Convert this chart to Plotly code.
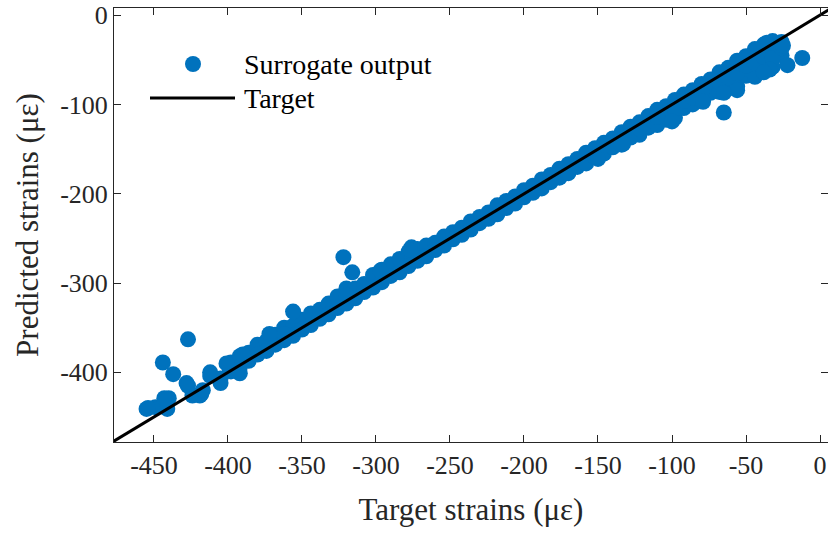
import plotly.graph_objects as go

# ---------------- data ----------------
band_x = [-398, -392, -386, -380, -374, -368, -362, -356, -350, -344, -338, -332,
          -326, -320, -314, -308, -302, -296, -290, -284, -278, -272, -266, -260,
          -254, -248, -242, -236, -230, -224, -218, -212, -206, -200, -194, -188,
          -182, -176, -170, -164, -158, -152, -146, -140, -134, -128, -122, -116,
          -110, -104, -98, -92, -86, -80, -74, -68, -62, -56, -50, -44, -38, -32, -26]
band_upper = [-389, -382, -378, -369, -365, -358, -350, -348, -341, -334, -330, -323,
              -315, -306, -306, -301, -291, -285, -279, -273, -265, -262, -258, -255,
              -248, -243, -238, -231, -226, -221, -213, -208, -203, -196, -191, -184,
              -179, -172, -167, -161, -154, -149, -143, -138, -131, -125, -120, -113,
              -106, -102, -95, -89, -84, -77, -72, -64, -59, -51, -46, -38, -33, -29, -30]
band_lower = [-399, -394, -387, -380, -376, -369, -364, -359, -352, -347, -340, -335,
              -328, -323, -317, -310, -305, -299, -292, -288, -281, -275, -270, -263,
              -258, -251, -246, -240, -233, -228, -223, -216, -211, -204, -199, -194,
              -187, -182, -177, -170, -166, -159, -155, -148, -145, -137, -134, -126,
              -123, -117, -115, -104, -100, -96, -87, -86, -82, -80, -68, -69, -62, -58, -45]

mid_x = [-362, -320, -134, -122, -110, -98, -92, -86, -80, -68, -62, -56, -50,
         -44, -38, -32, -32, -26]
mid_y = [-357, -314, -138, -127, -114, -105, -96, -92, -86, -75, -70, -65, -57,
         -53, -47, -38, -48, -37]

extra_x = [-455, -449, -441, -440, -444, -437, -427, -428, -424, -418, -412, -405,
           -399, -454, -443, -427, -419, -417, -405, -392, -372, -390, -412, -401,
           -322, -316, -356, -276, -277, -297,
           -36, -25, -22, -34, -38, -12, -65, -56, -65, -79, -100, -133, -150]
extra_y = [-441, -439, -441, -429, -389, -402, -363, -412, -426, -424, -404, -407,
           -395, -440, -429, -415, -426, -420, -412, -401, -357, -380, -400, -390,
           -271, -288, -332, -260, -263, -286,
           -31, -34, -56, -61, -64, -48, -109, -84, -87, -97, -119, -144, -161]

target_line = [-480, 10]

x_ticks = [-450, -400, -350, -300, -250, -200, -150, -100, -50, 0]
y_ticks = [-400, -300, -200, -100, 0]

legend_labels = ["Surrogate output", "Target"]

# ------------------------------------------------------------------------
target_x = band_x + band_x + mid_x + extra_x
predicted_y = band_upper + band_lower + mid_y + extra_y

BLUE = "#0072BD"
AX = "#262626"
FONT = "Liberation Serif"

fig = go.Figure()
fig.add_trace(go.Scatter(
    x=target_x, y=predicted_y, mode="markers", name=legend_labels[0],
    marker=dict(color=BLUE, size=16, line=dict(width=0)),
    showlegend=False))
fig.add_trace(go.Scatter(
    x=target_line, y=target_line, mode="lines", name=legend_labels[1],
    line=dict(color="black", width=3), showlegend=False))

W, H = 828, 533
ML, MR, MT, MB = 114, 0, 8, 91
PW, PH = W - ML - MR, H - MT - MB


def px(xp):
    return (xp - ML) / PW


def py(yp):
    return (H - MB - yp) / PH


# manual MATLAB-style legend (no box)
fig.add_shape(type="circle", xref="paper", yref="paper",
              x0=px(185), x1=px(201), y0=py(72), y1=py(56),
              fillcolor=BLUE, line=dict(width=0))
fig.add_shape(type="line", xref="paper", yref="paper",
              x0=px(150), x1=px(235), y0=py(98), y1=py(98),
              line=dict(color="black", width=3))
fig.add_annotation(xref="paper", yref="paper", x=px(242), y=py(64),
                   text=legend_labels[0], showarrow=False,
                   xanchor="left", yanchor="middle",
                   font=dict(family=FONT, size=28, color="black"))
fig.add_annotation(xref="paper", yref="paper", x=px(242), y=py(98),
                   text=legend_labels[1], showarrow=False,
                   xanchor="left", yanchor="middle",
                   font=dict(family=FONT, size=28, color="black"))

axis_common = dict(
    showline=True, linecolor=AX, linewidth=1, mirror="ticks",
    ticks="inside", ticklen=7, tickwidth=1.3, tickcolor=AX,
    showgrid=False, zeroline=False, ticklabeloverflow="allow",
    automargin=False,
    tickfont=dict(family=FONT, size=26, color=AX),
)

fig.update_xaxes(range=[-477, 5.4], tickvals=x_ticks,
                 ticktext=[str(v) for v in x_ticks],
                 title=dict(text="Target strains (με)", standoff=19,
                            font=dict(family=FONT, size=31, color=AX)),
                 **axis_common)
fig.update_yaxes(range=[-478, 8], tickvals=y_ticks,
                 ticktext=[str(v) for v in y_ticks],
                 title=dict(text="Predicted strains (με)", standoff=12,
                            font=dict(family=FONT, size=31, color=AX)),
                 **axis_common)

fig.update_layout(
    width=W, height=H,
    margin=dict(l=ML, r=MR, t=MT, b=MB, pad=0, autoexpand=False),
    paper_bgcolor="white", plot_bgcolor="white",
    showlegend=False,
)

fig.write_html("out.html")
